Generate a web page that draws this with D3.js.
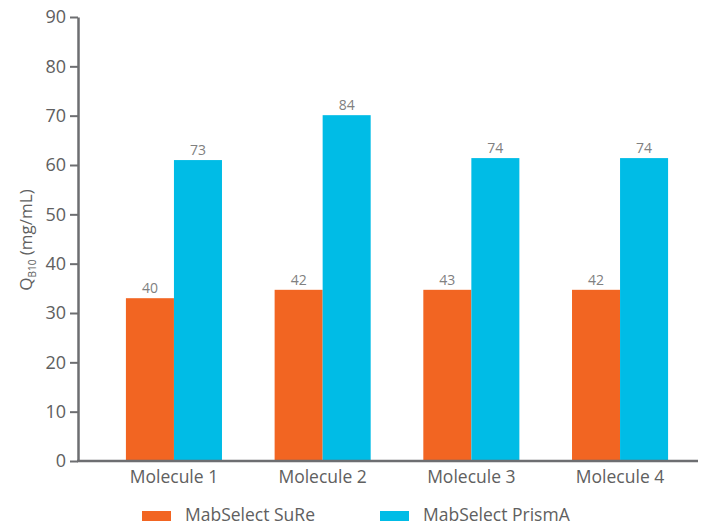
<!DOCTYPE html>
<html><head><meta charset="utf-8">
<script src="https://cdn.jsdelivr.net/npm/d3@7"></script>
<style>body{margin:0;background:#fff;}svg{display:block;font-family:"Open Sans",sans-serif;}</style>
</head><body><svg id="c" width="702" height="526"></svg>
<script>
const categories = ["Molecule 1","Molecule 2","Molecule 3","Molecule 4"];
const seriesNames = ["MabSelect SuRe","MabSelect PrismA"];
const sureHeights = [33.0, 34.7, 34.7, 34.7];
const prismHeights = [61.0, 70.1, 61.4, 61.4];
const sureLabels = ["40","42","43","42"];
const prismLabels = ["73","84","74","74"];
const yTicks = [0,10,20,30,40,50,60,70,80,90];
const colors = ["#f26522","#00bce6"];

const FONT = "'Open Sans',sans-serif";
const svg = d3.select("#c");
const y = d3.scaleLinear().domain([0,90]).range([461,17]);
const x = d3.scaleBand().domain(categories).range([99.6,694.4]).paddingInner(0.354).paddingOuter(0.177);
const xs = d3.scaleBand().domain(seriesNames).range([0,x.bandwidth()]);
const axisColor = "#6d6e71";
const textColor = "#606060";

const series = [
  {name:seriesNames[0], vals:sureHeights, labels:sureLabels, color:colors[0]},
  {name:seriesNames[1], vals:prismHeights, labels:prismLabels, color:colors[1]}
];
series.forEach(s=>{
  categories.forEach((c,i)=>{
    const bx = x(c)+xs(s.name);
    svg.append("rect").attr("x",bx).attr("y",y(s.vals[i])).attr("width",xs.bandwidth()).attr("height",y(0)-y(s.vals[i])).attr("fill",s.color);
    svg.append("text").attr("x",bx+xs.bandwidth()/2).attr("y",y(s.vals[i])-5).attr("text-anchor","middle")
      .attr("font-size",14).attr("fill","#808080").text(s.labels[i]);
  });
});

// y axis
const yAxis = svg.append("g").attr("transform","translate(78,0)")
  .call(d3.axisLeft(y).tickValues(yTicks).tickSize(8).tickSizeOuter(0).tickPadding(4));
yAxis.select(".domain").attr("stroke",axisColor).attr("stroke-width",2.5);
yAxis.selectAll(".tick line").attr("stroke",axisColor).attr("stroke-width",2);
yAxis.selectAll(".tick text").attr("font-size",18).attr("fill",textColor).attr("font-family",FONT);

// x axis
svg.append("line").attr("x1",77).attr("x2",698).attr("y1",y(0)).attr("y2",y(0)).attr("stroke",axisColor).attr("stroke-width",2.5);
const xAxis = svg.append("g").attr("transform",`translate(0,${y(0)})`)
  .call(d3.axisBottom(x).tickSize(0).tickPadding(10));
xAxis.select(".domain").remove();
xAxis.selectAll(".tick text").attr("font-size",17.5).attr("fill",textColor).attr("font-family",FONT);

// y label
const yl = svg.append("text").attr("transform","translate(32,240) rotate(-90)").attr("text-anchor","middle")
  .attr("font-size",17).attr("fill",textColor);
yl.append("tspan").text("Q");
yl.append("tspan").attr("font-size",10).attr("dy",4).text("B10");
yl.append("tspan").attr("dy",-4).text(" (mg/mL)");

// legend
const legX = [142,380];
series.forEach((s,i)=>{
  svg.append("rect").attr("x",legX[i]).attr("y",511).attr("width",29).attr("height",10).attr("fill",s.color);
  svg.append("text").attr("x",legX[i]+43).attr("y",520.5).attr("font-size",17.5).attr("fill",textColor).text(s.name);
});
</script></body></html>
